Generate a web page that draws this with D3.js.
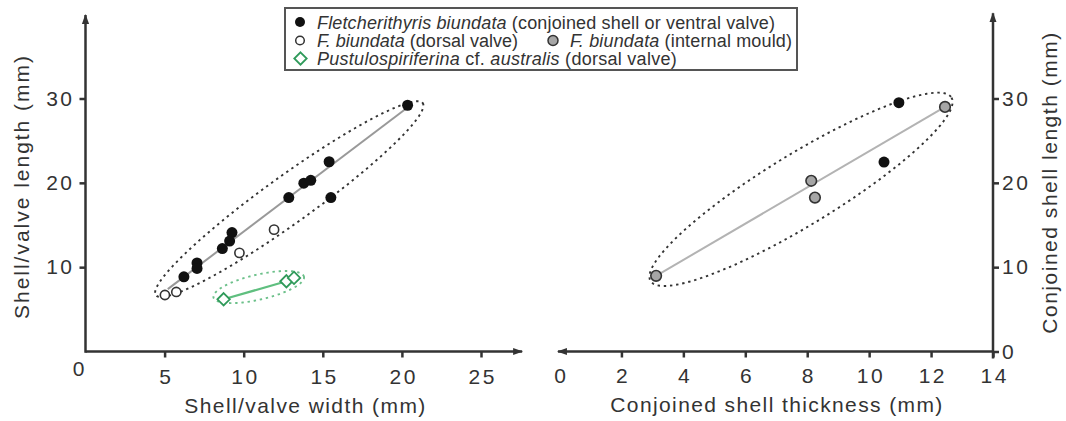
<!DOCTYPE html>
<html><head><meta charset="utf-8">
<script src="https://cdn.jsdelivr.net/npm/d3@7"></script>
<style>
body{margin:0;background:#fff}
text{font-family:"Liberation Sans",Arial,sans-serif;fill:#333}
</style>
</head><body>
<svg id="c" width="1066" height="421"></svg>
<script>
// ---- data (width/thickness, length in mm) ----
const leftFilled = [[20.36,29.2],[15.40,22.5],[15.51,18.25],[13.8,19.96],[14.24,20.3],[12.85,18.25],
  [9.26,14.1],[9.11,13.1],[8.65,12.2],[7.05,10.5],[7.05,9.85],[6.22,8.85]];
const leftOpen = [[11.92,14.45],[9.73,11.7],[5.74,7.06],[5.02,6.7]];
const pustulo = [[8.73,6.19],[12.7,8.33],[13.18,8.73]];
const rightFilled = [[10.96,29.5],[10.48,22.46]];
const rightMould = [[12.45,29.0],[8.13,20.24],[8.25,18.25],[3.12,8.97]];
const leftTrend = [[5.2,7.4],[20.4,29.0]];
const pustuloTrend = [[8.73,6.19],[12.7,8.33]];
const rightTrend = [[3.12,8.97],[12.45,29.0]];
// ellipses: centre, major-axis tip, minor-axis tip (data units)
const leftEllipse = [[12.88,18.07],[21.32,29.45],[13.73,15.78]];
const pustuloEllipse = [[10.95,7.64],[13.81,8.87],[11.12,6.19]];
const rightEllipse = [[7.80,19.23],[12.66,30.11],[8.39,15.61]];
const leftXTicks = [5,10,15,20,25];
const yTicks = [10,20,30];
const rightXTicks = [0,2,4,6,8,10,12,14];
const rightYTicks = [0,10,20,30];
const originLabel = "0";
const leftXTitle = "Shell/valve width (mm)";
const leftYTitle = "Shell/valve length (mm)";
const rightXTitle = "Conjoined shell thickness (mm)";
const rightYTitle = "Conjoined shell length (mm)";

const svg = d3.select('#c');
const xL = d3.scaleLinear().domain([0,25]).range([85.5,481]);
const yS = d3.scaleLinear().domain([0,30]).range([351.5,98.5]);
const xR = d3.scaleLinear().domain([0,14]).range([559.5,993]);

const AX = '#333';
function fit(t, w){
  const n = t.text().length;
  const w0 = t.node().getComputedTextLength();
  t.style('letter-spacing', ((w - w0)/Math.max(1,n-1)) + 'px');
}

svg.append('defs').append('marker').attr('id','arr')
  .attr('viewBox','0 -5 10 10').attr('refX',9).attr('refY',0)
  .attr('markerWidth',10).attr('markerHeight',10).attr('markerUnits','userSpaceOnUse')
  .attr('orient','auto')
  .append('path').attr('d','M0,-3.6L10,0L0,3.6Z').attr('fill',AX);

// ---- ellipses ----
function ellipsePath(e, xs, ys){
  const [c,a,b] = e;
  const pts = d3.range(0, 121).map(i=>{
    const t = i/120*2*Math.PI;
    return [xs(c[0] + (a[0]-c[0])*Math.cos(t) + (b[0]-c[0])*Math.sin(t)),
            ys(c[1] + (a[1]-c[1])*Math.cos(t) + (b[1]-c[1])*Math.sin(t))];
  });
  return d3.line()(pts) + 'Z';
}
svg.append('path').attr('d', ellipsePath(leftEllipse, xL, yS))
  .attr('fill','none').attr('stroke','#333').attr('stroke-width',1.9).attr('stroke-dasharray','2.4,3.8');
svg.append('path').attr('d', ellipsePath(pustuloEllipse, xL, yS))
  .attr('fill','none').attr('stroke','#6cc08a').attr('stroke-width',1.9).attr('stroke-dasharray','2.4,3.8');
svg.append('path').attr('d', ellipsePath(rightEllipse, xR, yS))
  .attr('fill','none').attr('stroke','#333').attr('stroke-width',1.9).attr('stroke-dasharray','2.4,3.8');

// ---- trend lines ----
const lineL = d3.line().x(d=>xL(d[0])).y(d=>yS(d[1]));
const lineR = d3.line().x(d=>xR(d[0])).y(d=>yS(d[1]));
svg.append('path').attr('d', lineL(leftTrend)).attr('stroke','#999').attr('stroke-width',2).attr('fill','none');
svg.append('path').attr('d', lineL(pustuloTrend)).attr('stroke','#5fbf7f').attr('stroke-width',2.2).attr('fill','none');
svg.append('path').attr('d', lineR(rightTrend)).attr('stroke','#b3b3b3').attr('stroke-width',2).attr('fill','none');

// ---- axes ----
function styleAxis(g){
  g.select('.domain').remove();
  g.selectAll('.tick line').attr('stroke',AX).attr('stroke-width',2.5);
  g.selectAll('.tick text').attr('fill','#333').style('font-size','21px')
    .style('font-family','"Liberation Sans",Arial,sans-serif').style('letter-spacing','2.5px');
}
const gLX = svg.append('g').attr('transform',`translate(0,${yS(0)})`)
  .call(d3.axisBottom(xL).tickValues(leftXTicks).tickSize(6).tickPadding(12).tickSizeOuter(0));
styleAxis(gLX);
gLX.selectAll('.tick text').attr('dx','1.25px');
const gLY = svg.append('g').attr('transform',`translate(${xL(0)},0)`)
  .call(d3.axisLeft(yS).tickValues(yTicks).tickSize(6).tickPadding(5).tickSizeOuter(0));
styleAxis(gLY);
const gRX = svg.append('g').attr('transform',`translate(0,${yS(0)})`)
  .call(d3.axisBottom(xR).tickValues(rightXTicks).tickSize(6).tickPadding(11).tickSizeOuter(0));
styleAxis(gRX);
gRX.selectAll('.tick text').attr('dx','1.25px');
gRX.selectAll('.tick').filter(d=>d===0).select('line').remove();
const gRY = svg.append('g').attr('transform',`translate(${xR(14)},0)`)
  .call(d3.axisRight(yS).tickValues(rightYTicks).tickSize(6).tickPadding(3).tickSizeOuter(0));
styleAxis(gRY);

svg.append('line').attr('x1',xL(0)).attr('y1',yS(0)+1.2).attr('x2',xL(0)).attr('y2',yS(39.9))
  .attr('stroke',AX).attr('stroke-width',2.5).attr('marker-end','url(#arr)');
svg.append('line').attr('x1',xL(0)).attr('y1',yS(0)).attr('x2',xL(27.6)).attr('y2',yS(0))
  .attr('stroke',AX).attr('stroke-width',2.5).attr('marker-end','url(#arr)');
svg.append('line').attr('x1',xR(14)).attr('y1',yS(0)).attr('x2',xR(-0.05)).attr('y2',yS(0))
  .attr('stroke',AX).attr('stroke-width',2.5).attr('marker-end','url(#arr)');
svg.append('line').attr('x1',xR(14)).attr('y1',yS(0)+7).attr('x2',xR(14)).attr('y2',yS(40.1))
  .attr('stroke',AX).attr('stroke-width',2.5).attr('marker-end','url(#arr)');

svg.append('text').attr('x',xL(0)-7).attr('y',yS(0)+24).attr('text-anchor','middle')
  .style('font-size','21px').text(originLabel);

const t1 = svg.append('text').attr('x',305.5).attr('y',413).attr('text-anchor','middle')
  .style('font-size','21px').text(leftXTitle); fit(t1,241);
const t2 = svg.append('text').attr('x',777).attr('y',412).attr('text-anchor','middle')
  .style('font-size','21px').text(rightXTitle); fit(t2,332);
const t3 = svg.append('text').attr('transform','translate(29,186.5) rotate(-90)').attr('text-anchor','middle')
  .style('font-size','21px').text(leftYTitle); fit(t3,263);
const t4 = svg.append('text').attr('transform','translate(1057,182.5) rotate(-90)').attr('text-anchor','middle')
  .style('font-size','21px').text(rightYTitle); fit(t4,301);

// ---- points ----
const diamond = 'M0,-6.2L6.2,0L0,6.2L-6.2,0Z';
function filled(g, data, xs){
  g.selectAll(null).data(data).enter().append('circle')
    .attr('cx',d=>xs(d[0])).attr('cy',d=>yS(d[1])).attr('r',5.5).attr('fill','#111');
}
function open(g, data, xs){
  g.selectAll(null).data(data).enter().append('circle')
    .attr('cx',d=>xs(d[0])).attr('cy',d=>yS(d[1])).attr('r',4.6)
    .attr('fill','#fff').attr('stroke','#333').attr('stroke-width',1.6);
}
function mould(g, data, xs){
  g.selectAll(null).data(data).enter().append('circle')
    .attr('cx',d=>xs(d[0])).attr('cy',d=>yS(d[1])).attr('r',5.3)
    .attr('fill','#a6a6a6').attr('stroke','#333').attr('stroke-width',1.6);
}
function diam(g, data, xs){
  g.selectAll(null).data(data).enter().append('path').attr('d',diamond)
    .attr('transform',d=>`translate(${xs(d[0])},${yS(d[1])})`)
    .attr('fill','#fff').attr('stroke','#2f9a5a').attr('stroke-width',1.8);
}
const gp = svg.append('g');
open(gp, leftOpen, xL);
filled(gp, leftFilled, xL);
diam(gp, pustulo, xL);
mould(gp, rightMould, xR);
filled(gp, rightFilled, xR);

// ---- legend ----
const lg = svg.append('g');
lg.append('rect').attr('x',285).attr('y',8).attr('width',512).attr('height',62)
  .attr('fill','#fff').attr('stroke','#555').attr('stroke-width',2);
lg.append('circle').attr('cx',300).attr('cy',22).attr('r',5).attr('fill','#111');
lg.append('circle').attr('cx',300).attr('cy',40.5).attr('r',4.3).attr('fill','#fff').attr('stroke','#333').attr('stroke-width',1.5);
lg.append('circle').attr('cx',553).attr('cy',40.5).attr('r',5).attr('fill','#a6a6a6').attr('stroke','#333').attr('stroke-width',1.5);
lg.append('path').attr('d',diamond).attr('transform','translate(300.5,58.5)')
  .attr('fill','#fff').attr('stroke','#2f9a5a').attr('stroke-width',1.8);
function legText(x,y,parts,w){
  const t = lg.append('text').attr('x',x).attr('y',y).style('font-size','18px');
  parts.forEach(p=>t.append('tspan').style('font-style',p[1]?'italic':'normal').text(p[0]));
  fit(t,w);
}
legText(317,28.5,[["Fletcherithyris biundata",1],[" (conjoined shell or ventral valve)",0]],458);
legText(317,46.7,[["F. biundata",1],[" (dorsal valve)",0]],201);
legText(570,46.7,[["F. biundata",1],[" (internal mould)",0]],222);
legText(317,65,[["Pustulospiriferina",1],[" cf. ",0],["australis",1],["  (dorsal valve)",0]],360);
</script>
</body></html>
